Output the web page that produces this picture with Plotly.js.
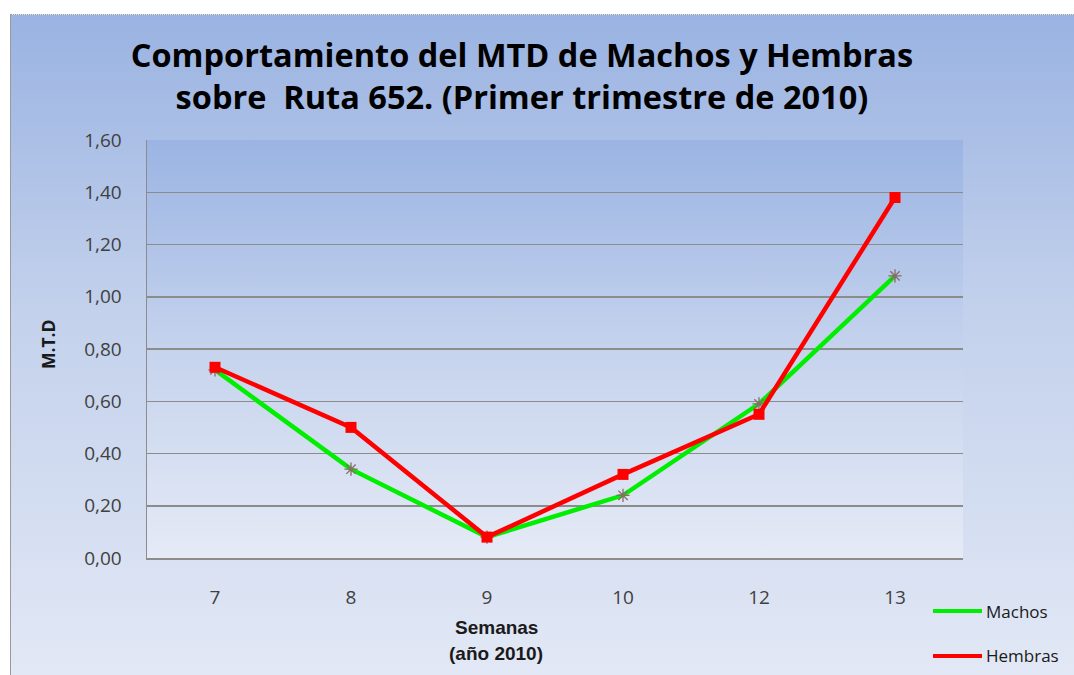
<!DOCTYPE html>
<html>
<head>
<meta charset="utf-8">
<script src="https://cdn.plot.ly/plotly-3.0.1.min.js"></script>
<style>
html,body{margin:0;padding:0;background:#ffffff;}
#frame{position:absolute;left:10px;top:14px;width:1064px;height:661px;
  background:linear-gradient(to bottom,#9ab3e2 0%,#c3d1ec 45%,#e2e8f5 100%);
  border-left:1px solid #9a9a9a;border-top:1px dotted #9a9a9a;box-sizing:border-box;}
#inner{position:absolute;left:147px;top:140px;width:816px;height:418px;
  background:linear-gradient(to bottom,#9bb4e3 0%,#c5d3ed 50%,#e5eaf6 100%);}
#chart{position:absolute;left:0;top:0;width:1074px;height:675px;}
</style>
</head>
<body>
<div id="frame"></div>
<div id="inner"></div>
<div id="chart"></div>
<script>
const semanas = ["7","8","9","10","12","13"];
const machos = [0.72, 0.34, 0.08, 0.24, 0.59, 1.08];
const hembras = [0.73, 0.50, 0.08, 0.32, 0.55, 1.38];
const yTicks = [0,0.2,0.4,0.6,0.8,1.0,1.2,1.4,1.6];
const yTickText = ["0,00","0,20","0,40","0,60","0,80","1,00","1,20","1,40","1,60"];

const traces = [
  {x: semanas, y: machos, name: "Machos", type: "scatter", mode: "lines+markers",
   line: {color: "#00ee00", width: 4.5},
   marker: {symbol: "asterisk-open", size: 11, color: "#8a6a6a", line: {color: "#8a6a6a", width: 1.3}},
   showlegend: false},
  {x: semanas, y: hembras, name: "Hembras", type: "scatter", mode: "lines+markers",
   line: {color: "#ff0000", width: 4.5},
   marker: {symbol: "square", size: 11, color: "#ff0000"},
   showlegend: false}
];

const tickFont = {family: "Open Sans, sans-serif", size: 19, color: "#404040"};
const boldFont = {family: "Liberation Sans, Arial, sans-serif", size: 19, color: "#1a1a1a"};

const layout = {
  width: 1074, height: 675,
  paper_bgcolor: "rgba(0,0,0,0)",
  plot_bgcolor: "rgba(0,0,0,0)",
  margin: {l: 147, r: 111, t: 140, b: 117},
  showlegend: false,
  title: {
    text: "<b>Comportamiento del MTD de Machos y Hembras<br>sobre  Ruta 652. (Primer trimestre de 2010)</b>",
    font: {family: "Open Sans, sans-serif", size: 32.5, color: "#000000"},
    x: 0.486, xanchor: "center", xref: "container",
    y: 1 - 67/675, yanchor: "middle", yref: "container"
  },
  xaxis: {
    type: "category", range: [-0.5, 5.5],
    showgrid: false,
    showline: true, linecolor: "#8c8c8c", linewidth: 1.5,
    ticks: "", tickfont: tickFont, ticklabelstandoff: 22,
    zeroline: false, fixedrange: true
  },
  yaxis: {
    range: [0, 1.6],
    tickvals: yTicks, ticktext: yTickText,
    showgrid: true, gridcolor: "#8c8c8c", gridwidth: 1.5,
    showline: true, linecolor: "#8c8c8c", linewidth: 1.5,
    ticks: "", tickfont: tickFont, ticklabelstandoff: 20,
    zeroline: false, fixedrange: true
  },
  shapes: [
    {type: "line", xref: "paper", yref: "paper", x0: (933-147)/816, x1: (982-147)/816, y0: -0.1268, y1: -0.1268,
     line: {color: "#00ee00", width: 4}},
    {type: "line", xref: "paper", yref: "paper", x0: (933-147)/816, x1: (982-147)/816, y0: -0.2344, y1: -0.2344,
     line: {color: "#ff0000", width: 4}}
  ],
  annotations: [
    {text: "<b>M.T.D</b>", xref: "paper", yref: "paper", x: (48-147)/816, y: (558-344)/418, textangle: -90,
     xanchor: "center", yanchor: "middle",
     showarrow: false, font: {family: "Open Sans, sans-serif", size: 17.5, color: "#1a1a1a"}},
    {text: "<b>Semanas</b>", xref: "paper", yref: "paper", x: 0.428, y: (558-627)/418, showarrow: false,
     xanchor: "center", yanchor: "middle", font: boldFont},
    {text: "<b>(año 2010)</b>", xref: "paper", yref: "paper", x: 0.428, y: (558-653)/418, showarrow: false,
     xanchor: "center", yanchor: "middle", font: boldFont},
    {text: "Machos", xref: "paper", yref: "paper", x: (984-147)/816, y: -0.1268, xanchor: "left", yanchor: "middle",
     showarrow: false, font: {family: "Open Sans, sans-serif", size: 17, color: "#1a1a1a"}},
    {text: "Hembras", xref: "paper", yref: "paper", x: (984-147)/816, y: -0.2344, xanchor: "left", yanchor: "middle",
     showarrow: false, font: {family: "Open Sans, sans-serif", size: 17, color: "#1a1a1a"}}
  ]
};

Plotly.newPlot("chart", traces, layout, {displayModeBar: false, staticPlot: true});
</script>
</body>
</html>
